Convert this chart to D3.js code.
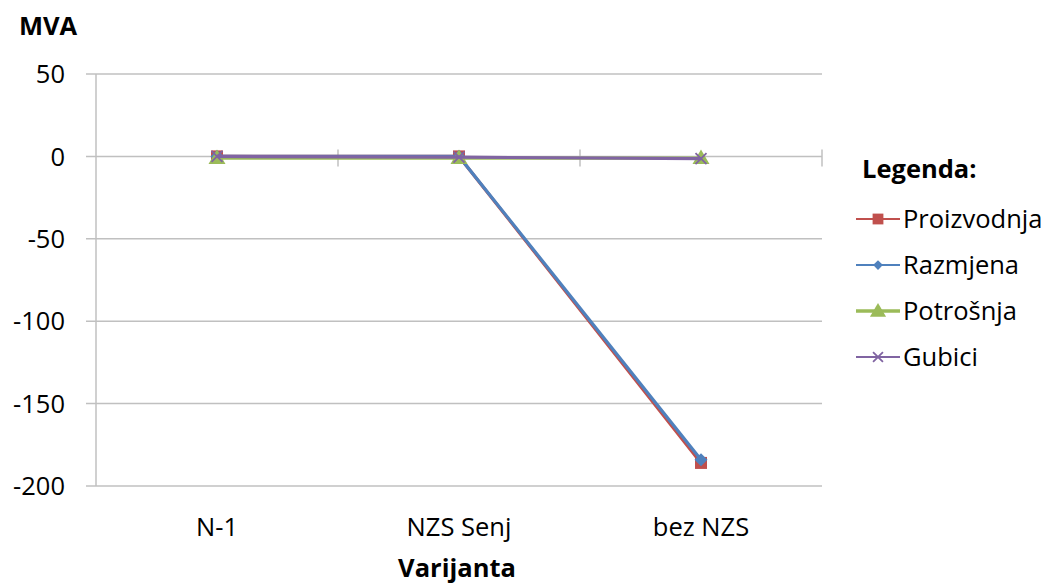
<!DOCTYPE html>
<html><head><meta charset="utf-8">
<script src="https://cdn.jsdelivr.net/npm/d3@7"></script>
<style>
body{margin:0;background:#fff;}
text{font-family:"Open Sans",Carlito,Calibri,Lato,sans-serif;fill:#000;}
</style></head>
<body><svg id="c" width="1054" height="584"></svg>
<script>
const categories = ["N-1", "NZS Senj", "bez NZS"];
const proizvodnja = [0, 0, -186];
const razmjena = [0, 0, -184];
const potrosnja = [-1, -1, -1];
const gubici = [0, -0.5, -1.3];
const yTicks = [50, 0, -50, -100, -150, -200];
const seriesNames = ["Proizvodnja", "Razmjena", "Potrošnja", "Gubici"];
const seriesColors = ["#C0504D", "#4F81BD", "#9BBB59", "#8064A2"];
const seriesMarkers = ["square", "diamond", "triangle", "x"];

(function () {
const FS = 25.5;
const series = [proizvodnja, razmjena, potrosnja, gubici].map((v, i) => ({
  name: seriesNames[i], values: v, color: seriesColors[i], marker: seriesMarkers[i]
}));

const svg = d3.select("#c");
const pLeft = 96, pRight = 822, pTop = 74, pBottom = 486;
const x = d3.scaleBand().domain(categories).range([pLeft, pRight]);
const y = d3.scaleLinear().domain([-200, 50]).range([pBottom, pTop]);

svg.append("g").selectAll("line").data(yTicks).join("line")
  .attr("x1", pLeft - 10).attr("x2", pRight)
  .attr("y1", d => y(d)).attr("y2", d => y(d))
  .attr("stroke", "#c0c0c0").attr("stroke-width", 1.5);
svg.append("line").attr("x1", pLeft).attr("x2", pLeft).attr("y1", pTop).attr("y2", pBottom)
  .attr("stroke", "#c0c0c0").attr("stroke-width", 1.5);
svg.append("g").selectAll("text").data(yTicks).join("text")
  .attr("x", 65).attr("y", d => y(d)).attr("dy", "0.36em")
  .attr("text-anchor", "end").attr("font-size", FS).text(d => d);
const bounds = categories.map(c => x(c) + x.bandwidth());
svg.append("g").selectAll("line").data(bounds).join("line")
  .attr("x1", d => d).attr("x2", d => d)
  .attr("y1", y(0) - 7).attr("y2", y(0) + 10)
  .attr("stroke", "#c0c0c0").attr("stroke-width", 1.5);
svg.append("g").selectAll("text").data(categories).join("text")
  .attr("x", d => x(d) + x.bandwidth() / 2).attr("y", 536)
  .attr("text-anchor", "middle").attr("font-size", FS).text(d => d);

svg.append("text").attr("x", 457).attr("y", 577).attr("text-anchor", "middle")
  .attr("font-size", FS).attr("font-weight", "bold").text("Varijanta");
svg.append("text").attr("x", 19).attr("y", 35)
  .attr("font-size", FS).attr("font-weight", "bold").text("MVA");

function drawMarker(g, type, cx, cy, color, scale) {
  const s = scale || 1;
  if (type === "square") {
    g.append("rect").attr("x", cx - 6 * s).attr("y", cy - 6 * s)
      .attr("width", 12 * s).attr("height", 12 * s).attr("fill", color);
  } else if (type === "diamond") {
    const r = 6.5 * s;
    g.append("path").attr("d", `M${cx},${cy - r}L${cx + r},${cy}L${cx},${cy + r}L${cx - r},${cy}Z`)
      .attr("fill", color);
  } else if (type === "triangle") {
    const r = 8.5 * s;
    g.append("path").attr("d", `M${cx},${cy - r}L${cx + r},${cy + r * 0.7}L${cx - r},${cy + r * 0.7}Z`)
      .attr("fill", color);
  } else {
    const r = 5.5 * s;
    g.append("path").attr("d", `M${cx - r},${cy - r}L${cx + r},${cy + r}M${cx - r},${cy + r}L${cx + r},${cy - r}`)
      .attr("stroke", color).attr("stroke-width", 1.8).attr("fill", "none");
  }
}

const line = d3.line().x((d, i) => x(categories[i]) + x.bandwidth() / 2).y(d => y(d));
series.forEach(s => {
  const g = svg.append("g");
  g.append("path").attr("d", line(s.values)).attr("fill", "none")
    .attr("stroke", s.color).attr("stroke-width", 3.2);
  s.values.forEach((v, i) => drawMarker(g, s.marker, x(categories[i]) + x.bandwidth() / 2, y(v), s.color, 1));
});

svg.append("text").attr("x", 862).attr("y", 178)
  .attr("font-size", FS).attr("font-weight", "bold").text("Legenda:");
series.forEach((s, i) => {
  const cy = 219 + i * 46;
  const g = svg.append("g");
  g.append("line").attr("x1", 856).attr("x2", 900).attr("y1", cy).attr("y2", cy)
    .attr("stroke", s.color).attr("stroke-width", s.marker === "triangle" ? 3.5 : 2.2);
  drawMarker(g, s.marker, 878, cy, s.color, s.marker === "diamond" ? 0.75 : (s.marker === "triangle" ? 0.95 : 0.9));
  svg.append("text").attr("x", 903).attr("y", cy).attr("dy", "0.36em")
    .attr("font-size", FS).text(s.name);
});
})();
</script></body></html>
